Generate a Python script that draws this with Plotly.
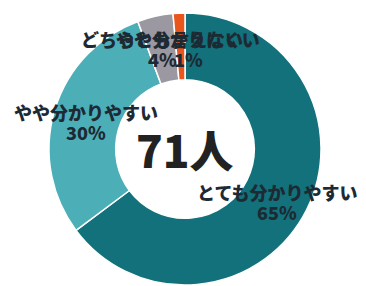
import plotly.graph_objects as go

categories = ["とても分かりやすい", "やや分かりやすい", "どちらとも言えない", "やや分かりにくい"]
counts = [46, 21, 3, 1]
percent_labels = ["65%", "30%", "4%", "1%"]
colors = ["#12717a", "#4cafb8", "#9b98a2", "#e8561e"]
total_label = "71人"

W, H = 366, 286
cx, cy, r = 185, 149, 136

fig = go.Figure(go.Pie(
    labels=categories,
    values=counts,
    sort=False,
    direction="clockwise",
    rotation=0,
    hole=0.51,
    marker=dict(colors=colors, line=dict(color="white", width=1.5)),
    textinfo="none",
    hoverinfo="skip",
    showlegend=False,
    domain=dict(x=[(cx - r) / W, (cx + r) / W], y=[(H - cy - r) / H, (H - cy + r) / H]),
))

font_family = "Noto Sans CJK JP"
label_color = "#1d2a33"
label_pos = [(277, 202), (86, 122), (162, 49), (188, 49)]

annotations = []
for cat, pct, (x, y) in zip(categories, percent_labels, label_pos):
    annotations.append(dict(
        x=x / W, y=1 - (y - 10) / H, xref="paper", yref="paper",
        text=cat, showarrow=False,
        font=dict(family=font_family, size=18, color=label_color, weight=900),
        xanchor="center", yanchor="middle",
    ))
    annotations.append(dict(
        x=x / W, y=1 - (y + 10) / H, xref="paper", yref="paper",
        text=pct, showarrow=False,
        font=dict(family=font_family, size=18, color=label_color, weight=900),
        xanchor="center", yanchor="middle",
    ))

annotations.append(dict(
    x=cx / W, y=1 - cy / H, xref="paper", yref="paper",
    text=total_label, showarrow=False,
    font=dict(family=font_family, size=44, color="#222222", weight=900),
    xanchor="center", yanchor="middle",
))

fig.update_layout(
    width=W, height=H,
    margin=dict(l=0, r=0, t=0, b=0),
    paper_bgcolor="white",
    plot_bgcolor="white",
    annotations=annotations,
)

fig.write_html(
    "out.html",
    config={"displayModeBar": False},
    post_script="document.body.style.margin='0';document.body.style.overflow='hidden';",
)
